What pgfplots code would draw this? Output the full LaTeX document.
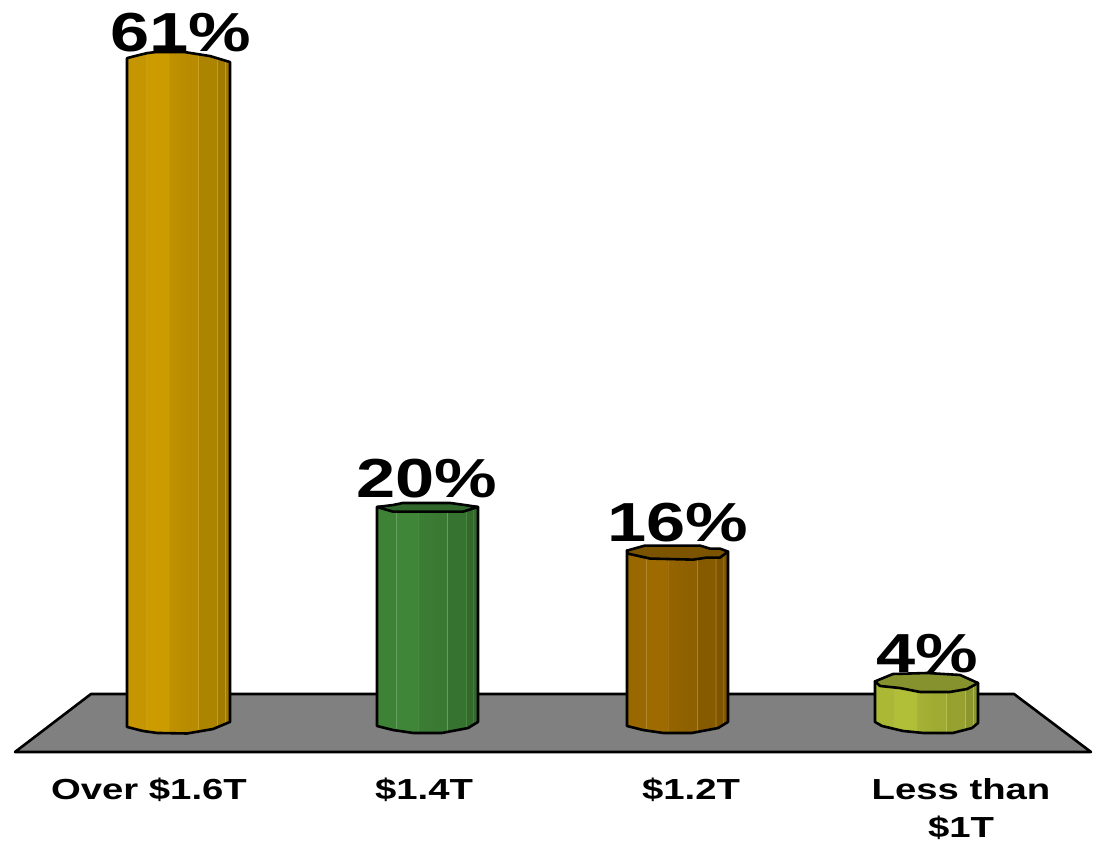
\documentclass[border=0pt]{standalone}
\usepackage{fontspec}
\setmainfont{Liberation Sans}[FakeStretch=1.28]
\newfontfamily\catfont{Liberation Sans}[FakeStretch=1.32]
\usepackage{pgfplots}
\pgfplotsset{compat=1.18}

% Faceted column shading: stops run from 25bp to 75bp across the column.
\newcommand\facets[2]{%
  \colorlet{#1a}{#2!97!black}%
  \colorlet{#1b}{#2}%
  \colorlet{#1c}{#2!94!black}%
  \colorlet{#1d}{#2!90!black}%
  \colorlet{#1e}{#2!85!black}%
  \colorlet{#1f}{#2!79!black}%
  \colorlet{#1l}{#2!80!white}%
  \colorlet{#1m}{#2!92!white}%
  \pgfdeclarehorizontalshading{#1}{100bp}{%
    color(0bp)=(#1a); color(25bp)=(#1a); color(34.2bp)=(#1a);
    color(34.3bp)=(#1l); color(34.6bp)=(#1l); color(34.7bp)=(#1b);
    color(45bp)=(#1b); color(45.1bp)=(#1m); color(45.3bp)=(#1m); color(45.4bp)=(#1c);
    color(55bp)=(#1d); color(59.4bp)=(#1d);
    color(59.5bp)=(#1l); color(59.8bp)=(#1l); color(59.9bp)=(#1e);
    color(68.6bp)=(#1e); color(68.7bp)=(#1m); color(69bp)=(#1m); color(69.1bp)=(#1f);
    color(72.4bp)=(#1f); color(72.5bp)=(#1b); color(72.8bp)=(#1b); color(72.9bp)=(#1f);
    color(75bp)=(#1f); color(100bp)=(#1f)}%
}
\definecolor{goldbase}{RGB}{204,155,0}
\definecolor{greenbase}{RGB}{64,134,56}
\definecolor{brownbase}{RGB}{158,107,0}
\definecolor{olivebase}{RGB}{176,190,56}
\definecolor{greencap}{RGB}{48,104,44}
\definecolor{browncap}{RGB}{124,84,0}
\definecolor{olivecap}{RGB}{134,146,46}
\facets{goldcol}{goldbase}
\facets{greencol}{greenbase}
\facets{browncol}{brownbase}
\facets{olivecol}{olivebase}

\begin{document}
\begin{tikzpicture}
\begin{axis}[
  at={(0pt,90pt)}, anchor=south west,
  scale only axis, width=1096pt, height=752pt,
  xmin=0, xmax=1096, ymin=-2.477, ymax=66.514,
  clip=false,
  axis line style={draw=none},
  ytick=\empty,
  xtick={149,424,691,961},
  xticklabels={Over \$1.6T,\$1.4T,\$1.2T,{Less than\\\$1T}},
  major tick length=0pt,
  xticklabel style={font=\catfont\fontsize{29}{38}\selectfont\bfseries, align=center,
    anchor=north, yshift=-26pt, inner sep=0pt},
  every axis plot/.append style={line width=2.6pt, line join=round},
]
% floor of the chart
\addplot[draw=black, fill=black!50] coordinates {
  (15,-2.477) (91,2.844) (1014,2.844) (1091,-2.477) (15,-2.477)} --cycle;

% value labels
\addplot[draw=none, mark=none, point meta=explicit,
  /pgf/number format/assume math mode=true,
  nodes near coords={\pgfmathprintnumber{\pgfplotspointmeta}\%},
  every node near coord/.append style={anchor=base, yshift=9pt, inner sep=0pt,
    font=\fontsize{55}{55}\selectfont\bfseries, text=black}]
  coordinates {(181,61)[61] (427,20)[20] (678,16)[16] (927,4)[4]};

% column 1: 61
\addplot[draw=black, shade, shading=goldcol] coordinates {
  (127,61.18) (135,61.37) (147,61.64) (155,61.73) (185,61.73) (210,61.37) (230,60.82)
  (230,0.28) (213,-0.37) (187,-0.78) (157,-0.73) (143,-0.55) (127,-0.18) (127,61.18)} --cycle;

% column 2: 20
\addplot[draw=black, shade, shading=greencol] coordinates {
  (377,20) (478,20) (478,0.28) (468,-0.28) (442,-0.73) (413,-0.73) (393,-0.46) (377,-0.09) (377,20)} --cycle;
\addplot[draw=black, fill=greencap] coordinates {
  (377,20) (393,20.18) (403,20.37) (450,20.37) (465,20.18) (478,20) (463,19.57) (393,19.57) (377,20)} --cycle;

% column 3: 16
\addplot[draw=black, shade, shading=browncol] coordinates {
  (627,16) (728,15.91) (728,0.28) (718,-0.28) (692,-0.73) (663,-0.73) (643,-0.46) (627,-0.09) (627,16)} --cycle;
\addplot[draw=black, fill=browncap] coordinates {
  (627,16) (645,16.46) (700,16.46) (710,16.18) (720,16.18) (728,15.91) (720,15.36) (707,15.36)
  (693,15.17) (650,15.27) (628,15.72) (627,16)} --cycle;

% column 4: 4
\addplot[draw=black, shade, shading=olivecol] coordinates {
  (875,4) (978,3.85) (978,0.18) (972,-0.28) (953,-0.73) (923,-0.73) (903,-0.55) (882,-0.09) (875,0.28) (875,4)} --cycle;
\addplot[draw=black, fill=olivecap] coordinates {
  (875,4) (893,4.68) (927,4.77) (960,4.59) (978,3.85) (967,3.30) (950,3.03) (920,3.03) (900,3.39) (880,3.58) (875,4)} --cycle;
\end{axis}
\pgfresetboundingbox
\path (0pt,0pt) rectangle (1096pt,842pt);
\end{tikzpicture}
\end{document}
